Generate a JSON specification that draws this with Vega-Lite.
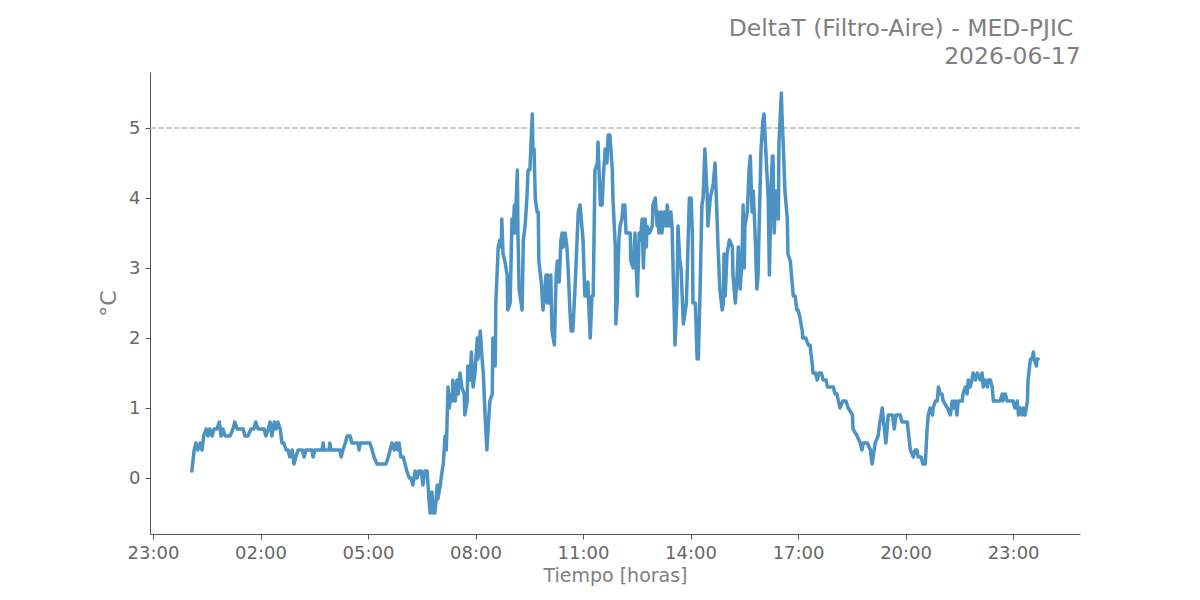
{
  "$schema": "https://vega.github.io/schema/vega-lite/v6.json",
  "width": 930,
  "height": 462,
  "autosize": {"type": "none"},
  "padding": {"left": 150, "top": 72, "right": 120, "bottom": 66},
  "background": "white",
  "title": {
    "text": ["DeltaT (Filtro-Aire) - MED-PJIC\u00a0\u200b", "2026-06-17"],
    "anchor": "end",
    "align": "right",
    "font": "DejaVu Sans",
    "fontSize": 23.5,
    "fontWeight": "normal",
    "color": "#808080",
    "lineHeight": 28,
    "offset": 4
  },
  "config": {
    "view": {"stroke": null},
    "axis": {
      "grid": false,
      "domainColor": "#555555",
      "tickColor": "#555555",
      "tickSize": 5,
      "labelColor": "#666666",
      "labelFont": "DejaVu Sans",
      "labelFontSize": 18,
      "labelPadding": 5,
      "titleFont": "DejaVu Sans",
      "titleColor": "#808080",
      "titleFontWeight": "normal"
    }
  },
  "datasets": {
    "serie": [
      {"t":"2026-06-17T00:05","v":0.1},{"t":"2026-06-17T00:09","v":0.4},{"t":"2026-06-17T00:12","v":0.5},{"t":"2026-06-17T00:15","v":0.4},{"t":"2026-06-17T00:19","v":0.5},{"t":"2026-06-17T00:22","v":0.4},{"t":"2026-06-17T00:25","v":0.6},{"t":"2026-06-17T00:29","v":0.7},{"t":"2026-06-17T00:32","v":0.6},{"t":"2026-06-17T00:35","v":0.7},{"t":"2026-06-17T00:39","v":0.6},{"t":"2026-06-17T00:42","v":0.7},{"t":"2026-06-17T00:47","v":0.7},{"t":"2026-06-17T00:51","v":0.8},{"t":"2026-06-17T00:54","v":0.6},{"t":"2026-06-17T00:57","v":0.7},
      {"t":"2026-06-17T01:01","v":0.6},{"t":"2026-06-17T01:09","v":0.6},{"t":"2026-06-17T01:14","v":0.7},{"t":"2026-06-17T01:17","v":0.8},{"t":"2026-06-17T01:21","v":0.7},{"t":"2026-06-17T01:31","v":0.7},{"t":"2026-06-17T01:34","v":0.6},{"t":"2026-06-17T01:39","v":0.6},{"t":"2026-06-17T01:44","v":0.7},{"t":"2026-06-17T01:49","v":0.7},{"t":"2026-06-17T01:52","v":0.8},{"t":"2026-06-17T01:56","v":0.7},
      {"t":"2026-06-17T02:06","v":0.7},{"t":"2026-06-17T02:09","v":0.6},{"t":"2026-06-17T02:13","v":0.7},{"t":"2026-06-17T02:16","v":0.8},{"t":"2026-06-17T02:19","v":0.6},{"t":"2026-06-17T02:23","v":0.8},{"t":"2026-06-17T02:26","v":0.7},{"t":"2026-06-17T02:29","v":0.8},{"t":"2026-06-17T02:33","v":0.7},{"t":"2026-06-17T02:36","v":0.5},{"t":"2026-06-17T02:39","v":0.5},{"t":"2026-06-17T02:43","v":0.4},{"t":"2026-06-17T02:46","v":0.4},{"t":"2026-06-17T02:49","v":0.3},{"t":"2026-06-17T02:53","v":0.4},{"t":"2026-06-17T02:56","v":0.2},{"t":"2026-06-17T02:59","v":0.3},
      {"t":"2026-06-17T03:03","v":0.4},{"t":"2026-06-17T03:10","v":0.4},{"t":"2026-06-17T03:13","v":0.3},{"t":"2026-06-17T03:16","v":0.4},{"t":"2026-06-17T03:26","v":0.4},{"t":"2026-06-17T03:28","v":0.3},{"t":"2026-06-17T03:31","v":0.4},{"t":"2026-06-17T03:43","v":0.4},{"t":"2026-06-17T03:45","v":0.5},{"t":"2026-06-17T03:46","v":0.4},{"t":"2026-06-17T03:55","v":0.4},{"t":"2026-06-17T03:56","v":0.5},{"t":"2026-06-17T03:58","v":0.4},
      {"t":"2026-06-17T04:13","v":0.4},{"t":"2026-06-17T04:15","v":0.3},{"t":"2026-06-17T04:18","v":0.4},{"t":"2026-06-17T04:22","v":0.5},{"t":"2026-06-17T04:25","v":0.6},{"t":"2026-06-17T04:30","v":0.6},{"t":"2026-06-17T04:33","v":0.5},{"t":"2026-06-17T04:43","v":0.5},{"t":"2026-06-17T04:45","v":0.4},{"t":"2026-06-17T04:47","v":0.5},
      {"t":"2026-06-17T05:03","v":0.5},{"t":"2026-06-17T05:07","v":0.4},{"t":"2026-06-17T05:10","v":0.3},{"t":"2026-06-17T05:15","v":0.2},{"t":"2026-06-17T05:30","v":0.2},{"t":"2026-06-17T05:34","v":0.3},{"t":"2026-06-17T05:37","v":0.4},{"t":"2026-06-17T05:40","v":0.5},{"t":"2026-06-17T05:44","v":0.4},{"t":"2026-06-17T05:47","v":0.5},{"t":"2026-06-17T05:50","v":0.4},{"t":"2026-06-17T05:52","v":0.5},{"t":"2026-06-17T05:55","v":0.3},{"t":"2026-06-17T05:59","v":0.3},
      {"t":"2026-06-17T06:02","v":0.2},{"t":"2026-06-17T06:05","v":0.1},{"t":"2026-06-17T06:09","v":0.0},{"t":"2026-06-17T06:12","v":0.0},{"t":"2026-06-17T06:15","v":-0.1},{"t":"2026-06-17T06:19","v":0.1},{"t":"2026-06-17T06:22","v":0.0},{"t":"2026-06-17T06:25","v":0.1},{"t":"2026-06-17T06:29","v":0.1},{"t":"2026-06-17T06:32","v":-0.1},{"t":"2026-06-17T06:35","v":0.1},{"t":"2026-06-17T06:39","v":0.1},{"t":"2026-06-17T06:42","v":-0.3},{"t":"2026-06-17T06:44","v":-0.5},{"t":"2026-06-17T06:47","v":-0.2},{"t":"2026-06-17T06:49","v":-0.5},{"t":"2026-06-17T06:52","v":-0.5},{"t":"2026-06-17T06:56","v":-0.1},{"t":"2026-06-17T06:57","v":-0.3},
      {"t":"2026-06-17T07:01","v":-0.1},{"t":"2026-06-17T07:04","v":0.1},{"t":"2026-06-17T07:06","v":0.2},{"t":"2026-06-17T07:09","v":0.6},{"t":"2026-06-17T07:11","v":0.4},{"t":"2026-06-17T07:14","v":1.3},{"t":"2026-06-17T07:16","v":1.0},{"t":"2026-06-17T07:19","v":1.2},{"t":"2026-06-17T07:21","v":1.1},{"t":"2026-06-17T07:22","v":1.4},{"t":"2026-06-17T07:26","v":1.1},{"t":"2026-06-17T07:29","v":1.4},{"t":"2026-06-17T07:31","v":1.2},{"t":"2026-06-17T07:34","v":1.5},{"t":"2026-06-17T07:37","v":1.3},{"t":"2026-06-17T07:41","v":1.2},{"t":"2026-06-17T07:42","v":0.9},{"t":"2026-06-17T07:46","v":1.1},{"t":"2026-06-17T07:47","v":1.6},{"t":"2026-06-17T07:51","v":1.4},{"t":"2026-06-17T07:53","v":1.8},{"t":"2026-06-17T07:56","v":1.3},{"t":"2026-06-17T07:59","v":1.5},
      {"t":"2026-06-17T08:03","v":2.0},{"t":"2026-06-17T08:04","v":1.7},{"t":"2026-06-17T08:08","v":2.1},{"t":"2026-06-17T08:11","v":1.7},{"t":"2026-06-17T08:13","v":1.5},{"t":"2026-06-17T08:16","v":0.9},{"t":"2026-06-17T08:19","v":0.4},{"t":"2026-06-17T08:21","v":0.7},{"t":"2026-06-17T08:24","v":1.1},{"t":"2026-06-17T08:28","v":1.2},{"t":"2026-06-17T08:29","v":2.0},{"t":"2026-06-17T08:33","v":1.6},{"t":"2026-06-17T08:34","v":2.5},{"t":"2026-06-17T08:38","v":3.3},{"t":"2026-06-17T08:41","v":3.4},{"t":"2026-06-17T08:43","v":3.3},{"t":"2026-06-17T08:44","v":3.7},{"t":"2026-06-17T08:46","v":3.2},{"t":"2026-06-17T08:49","v":3.1},{"t":"2026-06-17T08:53","v":2.9},{"t":"2026-06-17T08:54","v":2.4},{"t":"2026-06-17T08:58","v":2.5},
      {"t":"2026-06-17T09:01","v":3.7},{"t":"2026-06-17T09:03","v":3.5},{"t":"2026-06-17T09:05","v":3.9},{"t":"2026-06-17T09:06","v":3.5},{"t":"2026-06-17T09:10","v":4.4},{"t":"2026-06-17T09:11","v":3.5},{"t":"2026-06-17T09:13","v":2.7},{"t":"2026-06-17T09:18","v":2.4},{"t":"2026-06-17T09:20","v":3.4},{"t":"2026-06-17T09:23","v":3.6},{"t":"2026-06-17T09:26","v":4.0},{"t":"2026-06-17T09:28","v":4.4},{"t":"2026-06-17T09:31","v":4.4},{"t":"2026-06-17T09:35","v":5.2},{"t":"2026-06-17T09:36","v":4.7},{"t":"2026-06-17T09:38","v":4.7},{"t":"2026-06-17T09:40","v":4.0},{"t":"2026-06-17T09:43","v":3.8},{"t":"2026-06-17T09:45","v":3.8},{"t":"2026-06-17T09:46","v":3.1},{"t":"2026-06-17T09:50","v":2.8},{"t":"2026-06-17T09:53","v":2.4},{"t":"2026-06-17T09:55","v":2.6},{"t":"2026-06-17T09:58","v":2.9},
      {"t":"2026-06-17T10:00","v":2.5},{"t":"2026-06-17T10:01","v":2.9},{"t":"2026-06-17T10:03","v":2.5},{"t":"2026-06-17T10:06","v":2.9},{"t":"2026-06-17T10:08","v":2.1},{"t":"2026-06-17T10:12","v":1.9},{"t":"2026-06-17T10:15","v":2.9},{"t":"2026-06-17T10:17","v":3.1},{"t":"2026-06-17T10:20","v":2.8},{"t":"2026-06-17T10:23","v":3.4},{"t":"2026-06-17T10:25","v":3.5},{"t":"2026-06-17T10:27","v":3.3},{"t":"2026-06-17T10:30","v":3.5},{"t":"2026-06-17T10:33","v":3.3},{"t":"2026-06-17T10:35","v":3.0},{"t":"2026-06-17T10:38","v":2.4},{"t":"2026-06-17T10:40","v":2.1},{"t":"2026-06-17T10:43","v":2.1},{"t":"2026-06-17T10:47","v":2.8},{"t":"2026-06-17T10:50","v":3.4},{"t":"2026-06-17T10:52","v":3.8},{"t":"2026-06-17T10:55","v":3.9},{"t":"2026-06-17T10:58","v":3.6},
      {"t":"2026-06-17T11:00","v":3.4},{"t":"2026-06-17T11:03","v":2.6},{"t":"2026-06-17T11:07","v":2.6},{"t":"2026-06-17T11:08","v":2.8},{"t":"2026-06-17T11:12","v":2.0},{"t":"2026-06-17T11:15","v":2.6},{"t":"2026-06-17T11:17","v":2.6},{"t":"2026-06-17T11:20","v":4.4},{"t":"2026-06-17T11:24","v":4.5},{"t":"2026-06-17T11:25","v":4.8},{"t":"2026-06-17T11:29","v":3.9},{"t":"2026-06-17T11:32","v":3.9},{"t":"2026-06-17T11:34","v":4.3},{"t":"2026-06-17T11:37","v":4.7},{"t":"2026-06-17T11:40","v":4.5},{"t":"2026-06-17T11:42","v":4.9},{"t":"2026-06-17T11:45","v":4.9},{"t":"2026-06-17T11:49","v":4.4},{"t":"2026-06-17T11:50","v":4.0},{"t":"2026-06-17T11:54","v":3.3},{"t":"2026-06-17T11:55","v":2.2},{"t":"2026-06-17T11:57","v":2.5},
      {"t":"2026-06-17T12:00","v":3.4},{"t":"2026-06-17T12:02","v":3.6},{"t":"2026-06-17T12:05","v":3.7},{"t":"2026-06-17T12:07","v":3.9},{"t":"2026-06-17T12:10","v":3.9},{"t":"2026-06-17T12:12","v":3.5},{"t":"2026-06-17T12:15","v":3.5},{"t":"2026-06-17T12:19","v":3.5},{"t":"2026-06-17T12:20","v":3.1},{"t":"2026-06-17T12:24","v":3.0},{"t":"2026-06-17T12:27","v":3.5},{"t":"2026-06-17T12:29","v":3.0},{"t":"2026-06-17T12:31","v":2.6},{"t":"2026-06-17T12:34","v":3.5},{"t":"2026-06-17T12:36","v":3.4},{"t":"2026-06-17T12:39","v":3.7},{"t":"2026-06-17T12:41","v":3.0},{"t":"2026-06-17T12:44","v":3.7},{"t":"2026-06-17T12:46","v":3.3},{"t":"2026-06-17T12:47","v":3.6},{"t":"2026-06-17T12:51","v":3.5},{"t":"2026-06-17T12:56","v":3.6},{"t":"2026-06-17T12:57","v":3.9},
      {"t":"2026-06-17T13:01","v":4.0},{"t":"2026-06-17T13:04","v":3.6},{"t":"2026-06-17T13:06","v":3.8},{"t":"2026-06-17T13:07","v":3.5},{"t":"2026-06-17T13:11","v":3.8},{"t":"2026-06-17T13:12","v":3.5},{"t":"2026-06-17T13:16","v":3.8},{"t":"2026-06-17T13:19","v":3.6},{"t":"2026-06-17T13:21","v":3.9},{"t":"2026-06-17T13:24","v":3.6},{"t":"2026-06-17T13:27","v":3.8},{"t":"2026-06-17T13:29","v":3.6},{"t":"2026-06-17T13:31","v":2.9},{"t":"2026-06-17T13:34","v":1.9},{"t":"2026-06-17T13:37","v":2.5},{"t":"2026-06-17T13:39","v":3.6},{"t":"2026-06-17T13:42","v":3.1},{"t":"2026-06-17T13:44","v":3.0},{"t":"2026-06-17T13:48","v":2.2},{"t":"2026-06-17T13:53","v":2.5},{"t":"2026-06-17T13:56","v":3.4},{"t":"2026-06-17T13:58","v":4.0},
      {"t":"2026-06-17T14:01","v":4.0},{"t":"2026-06-17T14:03","v":3.5},{"t":"2026-06-17T14:04","v":2.5},{"t":"2026-06-17T14:08","v":2.5},{"t":"2026-06-17T14:11","v":1.7},{"t":"2026-06-17T14:13","v":1.7},{"t":"2026-06-17T14:16","v":2.7},{"t":"2026-06-17T14:19","v":3.9},{"t":"2026-06-17T14:21","v":4.0},{"t":"2026-06-17T14:24","v":4.7},{"t":"2026-06-17T14:28","v":4.0},{"t":"2026-06-17T14:29","v":3.6},{"t":"2026-06-17T14:33","v":4.0},{"t":"2026-06-17T14:38","v":4.2},{"t":"2026-06-17T14:41","v":4.5},{"t":"2026-06-17T14:44","v":3.8},{"t":"2026-06-17T14:46","v":3.3},{"t":"2026-06-17T14:49","v":2.7},{"t":"2026-06-17T14:53","v":2.4},{"t":"2026-06-17T14:55","v":2.5},{"t":"2026-06-17T14:56","v":3.2},{"t":"2026-06-17T14:58","v":2.6},
      {"t":"2026-06-17T15:01","v":3.2},{"t":"2026-06-17T15:05","v":3.4},{"t":"2026-06-17T15:10","v":3.3},{"t":"2026-06-17T15:11","v":2.9},{"t":"2026-06-17T15:15","v":2.5},{"t":"2026-06-17T15:18","v":2.9},{"t":"2026-06-17T15:20","v":3.3},{"t":"2026-06-17T15:23","v":2.7},{"t":"2026-06-17T15:26","v":3.1},{"t":"2026-06-17T15:28","v":3.9},{"t":"2026-06-17T15:30","v":3.0},{"t":"2026-06-17T15:31","v":3.6},{"t":"2026-06-17T15:35","v":3.8},{"t":"2026-06-17T15:38","v":4.4},{"t":"2026-06-17T15:40","v":4.6},{"t":"2026-06-17T15:43","v":3.8},{"t":"2026-06-17T15:45","v":4.1},{"t":"2026-06-17T15:48","v":3.5},{"t":"2026-06-17T15:51","v":2.7},{"t":"2026-06-17T15:53","v":2.9},{"t":"2026-06-17T15:56","v":4.0},{"t":"2026-06-17T15:58","v":4.7},
      {"t":"2026-06-17T16:01","v":5.1},{"t":"2026-06-17T16:03","v":5.2},{"t":"2026-06-17T16:07","v":4.5},{"t":"2026-06-17T16:10","v":4.0},{"t":"2026-06-17T16:12","v":2.9},{"t":"2026-06-17T16:15","v":4.2},{"t":"2026-06-17T16:17","v":4.6},{"t":"2026-06-17T16:18","v":4.6},{"t":"2026-06-17T16:20","v":3.5},{"t":"2026-06-17T16:23","v":4.1},{"t":"2026-06-17T16:27","v":3.7},{"t":"2026-06-17T16:28","v":4.8},{"t":"2026-06-17T16:32","v":5.5},{"t":"2026-06-17T16:33","v":5.2},{"t":"2026-06-17T16:35","v":4.8},{"t":"2026-06-17T16:38","v":4.1},{"t":"2026-06-17T16:42","v":3.7},{"t":"2026-06-17T16:43","v":3.2},{"t":"2026-06-17T16:47","v":3.1},{"t":"2026-06-17T16:50","v":2.8},{"t":"2026-06-17T16:52","v":2.6},{"t":"2026-06-17T16:55","v":2.6},{"t":"2026-06-17T16:58","v":2.4},
      {"t":"2026-06-17T17:00","v":2.4},{"t":"2026-06-17T17:03","v":2.3},{"t":"2026-06-17T17:07","v":2.1},{"t":"2026-06-17T17:08","v":2.0},{"t":"2026-06-17T17:13","v":2.0},{"t":"2026-06-17T17:17","v":1.9},{"t":"2026-06-17T17:20","v":1.9},{"t":"2026-06-17T17:24","v":1.6},{"t":"2026-06-17T17:25","v":1.5},{"t":"2026-06-17T17:29","v":1.5},{"t":"2026-06-17T17:32","v":1.4},{"t":"2026-06-17T17:35","v":1.5},{"t":"2026-06-17T17:39","v":1.5},{"t":"2026-06-17T17:42","v":1.4},{"t":"2026-06-17T17:47","v":1.4},{"t":"2026-06-17T17:49","v":1.3},{"t":"2026-06-17T17:54","v":1.3},{"t":"2026-06-17T17:59","v":1.3},
      {"t":"2026-06-17T18:02","v":1.2},{"t":"2026-06-17T18:05","v":1.2},{"t":"2026-06-17T18:10","v":1.0},{"t":"2026-06-17T18:15","v":1.1},{"t":"2026-06-17T18:20","v":1.1},{"t":"2026-06-17T18:24","v":1.0},{"t":"2026-06-17T18:31","v":0.9},{"t":"2026-06-17T18:32","v":0.7},{"t":"2026-06-17T18:39","v":0.6},{"t":"2026-06-17T18:44","v":0.5},{"t":"2026-06-17T18:47","v":0.4},{"t":"2026-06-17T18:49","v":0.5},{"t":"2026-06-17T18:56","v":0.5},
      {"t":"2026-06-17T19:01","v":0.4},{"t":"2026-06-17T19:04","v":0.2},{"t":"2026-06-17T19:09","v":0.5},{"t":"2026-06-17T19:14","v":0.6},{"t":"2026-06-17T19:17","v":0.8},{"t":"2026-06-17T19:21","v":1.0},{"t":"2026-06-17T19:22","v":0.9},{"t":"2026-06-17T19:27","v":0.5},{"t":"2026-06-17T19:31","v":0.9},{"t":"2026-06-17T19:38","v":0.9},{"t":"2026-06-17T19:41","v":0.7},{"t":"2026-06-17T19:44","v":0.9},{"t":"2026-06-17T19:51","v":0.9},{"t":"2026-06-17T19:54","v":0.8},
      {"t":"2026-06-17T20:03","v":0.8},{"t":"2026-06-17T20:04","v":0.7},{"t":"2026-06-17T20:08","v":0.4},{"t":"2026-06-17T20:13","v":0.3},{"t":"2026-06-17T20:16","v":0.4},{"t":"2026-06-17T20:19","v":0.4},{"t":"2026-06-17T20:21","v":0.3},{"t":"2026-06-17T20:26","v":0.3},{"t":"2026-06-17T20:29","v":0.2},{"t":"2026-06-17T20:33","v":0.2},{"t":"2026-06-17T20:36","v":0.7},{"t":"2026-06-17T20:38","v":0.9},{"t":"2026-06-17T20:41","v":1.0},{"t":"2026-06-17T20:45","v":0.9},{"t":"2026-06-17T20:46","v":1.0},{"t":"2026-06-17T20:50","v":1.1},{"t":"2026-06-17T20:53","v":1.1},{"t":"2026-06-17T20:55","v":1.3},{"t":"2026-06-17T20:58","v":1.2},
      {"t":"2026-06-17T21:01","v":1.2},{"t":"2026-06-17T21:03","v":1.1},{"t":"2026-06-17T21:10","v":1.0},{"t":"2026-06-17T21:15","v":0.9},{"t":"2026-06-17T21:18","v":1.1},{"t":"2026-06-17T21:20","v":1.0},{"t":"2026-06-17T21:23","v":1.1},{"t":"2026-06-17T21:26","v":0.9},{"t":"2026-06-17T21:28","v":1.1},{"t":"2026-06-17T21:35","v":1.1},{"t":"2026-06-17T21:36","v":1.2},{"t":"2026-06-17T21:40","v":1.3},{"t":"2026-06-17T21:43","v":1.2},{"t":"2026-06-17T21:45","v":1.4},{"t":"2026-06-17T21:48","v":1.3},{"t":"2026-06-17T21:51","v":1.4},{"t":"2026-06-17T21:53","v":1.5},{"t":"2026-06-17T21:57","v":1.4},
      {"t":"2026-06-17T22:00","v":1.5},{"t":"2026-06-17T22:05","v":1.4},{"t":"2026-06-17T22:08","v":1.5},{"t":"2026-06-17T22:10","v":1.3},{"t":"2026-06-17T22:13","v":1.4},{"t":"2026-06-17T22:17","v":1.3},{"t":"2026-06-17T22:18","v":1.4},{"t":"2026-06-17T22:22","v":1.4},{"t":"2026-06-17T22:25","v":1.3},{"t":"2026-06-17T22:27","v":1.1},{"t":"2026-06-17T22:38","v":1.1},{"t":"2026-06-17T22:42","v":1.2},{"t":"2026-06-17T22:43","v":1.1},{"t":"2026-06-17T22:47","v":1.2},{"t":"2026-06-17T22:50","v":1.1},
      {"t":"2026-06-17T23:00","v":1.1},{"t":"2026-06-17T23:03","v":1.0},{"t":"2026-06-17T23:07","v":1.1},{"t":"2026-06-17T23:09","v":0.9},{"t":"2026-06-17T23:12","v":1.0},{"t":"2026-06-17T23:15","v":0.9},{"t":"2026-06-17T23:17","v":1.0},{"t":"2026-06-17T23:20","v":0.9},{"t":"2026-06-17T23:24","v":1.1},{"t":"2026-06-17T23:25","v":1.4},{"t":"2026-06-17T23:29","v":1.7},{"t":"2026-06-17T23:32","v":1.7},{"t":"2026-06-17T23:34","v":1.8},{"t":"2026-06-17T23:35","v":1.7},{"t":"2026-06-17T23:39","v":1.6},{"t":"2026-06-17T23:40","v":1.7},{"t":"2026-06-17T23:42","v":1.7}
    ],
    "umbral": [{"v": 5}]
  },
  "layer": [
    {
      "data": {"name": "umbral"},
      "mark": {"type": "rule", "color": "#bbbbbb", "strokeWidth": 1.5, "strokeDash": [5.5, 2.4]},
      "encoding": {
        "y": {"field": "v", "type": "quantitative"}
      }
    },
    {
      "data": {"name": "serie"},
      "mark": {"type": "line", "color": "#4c92c3", "strokeWidth": 3.5, "strokeJoin": "round", "strokeCap": "round"},
      "encoding": {
        "x": {
          "field": "t",
          "type": "temporal",
          "scale": {
            "domain": [
              {"year": 2026, "month": 6, "date": 16, "hours": 22, "minutes": 55},
              {"year": 2026, "month": 6, "date": 18, "hours": 0, "minutes": 52}
            ]
          },
          "axis": {
            "title": "Tiempo [horas]",
            "titleFontSize": 19,
            "titlePadding": 4,
            "format": "%H:%M",
            "values": [
              {"year": 2026, "month": 6, "date": 16, "hours": 23},
              {"year": 2026, "month": 6, "date": 17, "hours": 2},
              {"year": 2026, "month": 6, "date": 17, "hours": 5},
              {"year": 2026, "month": 6, "date": 17, "hours": 8},
              {"year": 2026, "month": 6, "date": 17, "hours": 11},
              {"year": 2026, "month": 6, "date": 17, "hours": 14},
              {"year": 2026, "month": 6, "date": 17, "hours": 17},
              {"year": 2026, "month": 6, "date": 17, "hours": 20},
              {"year": 2026, "month": 6, "date": 17, "hours": 23}
            ],
            "labelFlush": false,
            "labelOverlap": false
          }
        },
        "y": {
          "field": "v",
          "type": "quantitative",
          "scale": {"domain": [-0.8, 5.8], "nice": false, "zero": false},
          "axis": {
            "title": "°C",
            "titleFontSize": 22,
            "titlePadding": 8,
            "values": [0, 1, 2, 3, 4, 5],
            "format": "d"
          }
        }
      }
    }
  ]
}
